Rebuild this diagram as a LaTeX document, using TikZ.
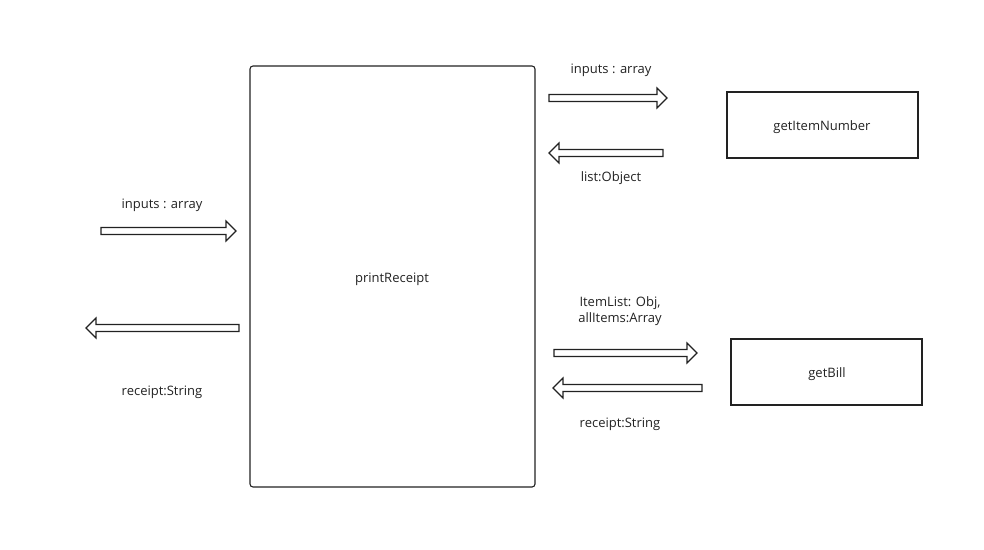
\documentclass[tikz,border=0pt]{standalone}
\usepackage{fontspec}
\setmainfont{Open Sans}
\definecolor{ink}{HTML}{222222}
\definecolor{txt}{HTML}{222222}
\newcommand\blockarr[4]{% name, start x, tip x, y
  \pgfmathsetmacro\bas{#3>#2 ? #3-10 : #3+10}
  \draw[blk] (#2,#4-3.5) -- (\bas,#4-3.5) -- (\bas,#4-10) -- (#3,#4) coordinate (#1) -- (\bas,#4+10) -- (\bas,#4+3.5) -- (#2,#4+3.5) -- cycle;}
\begin{document}
\begin{tikzpicture}[x=1pt,y=-1pt,
  blk/.style={draw=ink,line width=1.1pt,fill=white,line join=miter},
  box/.style={draw=ink,line width=1.1pt},
  lbl/.style={text=txt,font=\fontsize{13}{16}\selectfont,inner sep=0pt,align=center}]
\useasboundingbox (0,0) rectangle (984,549);
\draw[box,rounded corners=3pt] (250,66) rectangle (535,487);
\node[lbl] (pr) at (392,279) {printReceipt};
\draw[box] (727,92) rectangle (918,158);
\node[lbl] (gin) at (822,127) {getItemNumber};
\draw[box] (731,339) rectangle (922,405);
\node[lbl] (gb) at (827,374) {getBill};
\blockarr{a1}{549}{667}{98}
\blockarr{a2}{663}{549}{153}
\blockarr{a3}{101}{236}{231}
\blockarr{a4}{239}{86}{328}
\blockarr{a5}{554}{697}{353}
\blockarr{a6}{702}{553}{388}
\node[lbl] (l1) at (611,70) {inputs : array};
\node[lbl] (l2) at (611,178) {list:Object};
\node[lbl] (l3) at (162,205) {inputs : array};
\node[lbl] (l4) at (162,392) {receipt:String};
\node[lbl] (l5) at (620,311) {ItemList: Obj,\\allItems:Array};
\node[lbl] (l6) at (620,424) {receipt:String};
\end{tikzpicture}
\end{document}
